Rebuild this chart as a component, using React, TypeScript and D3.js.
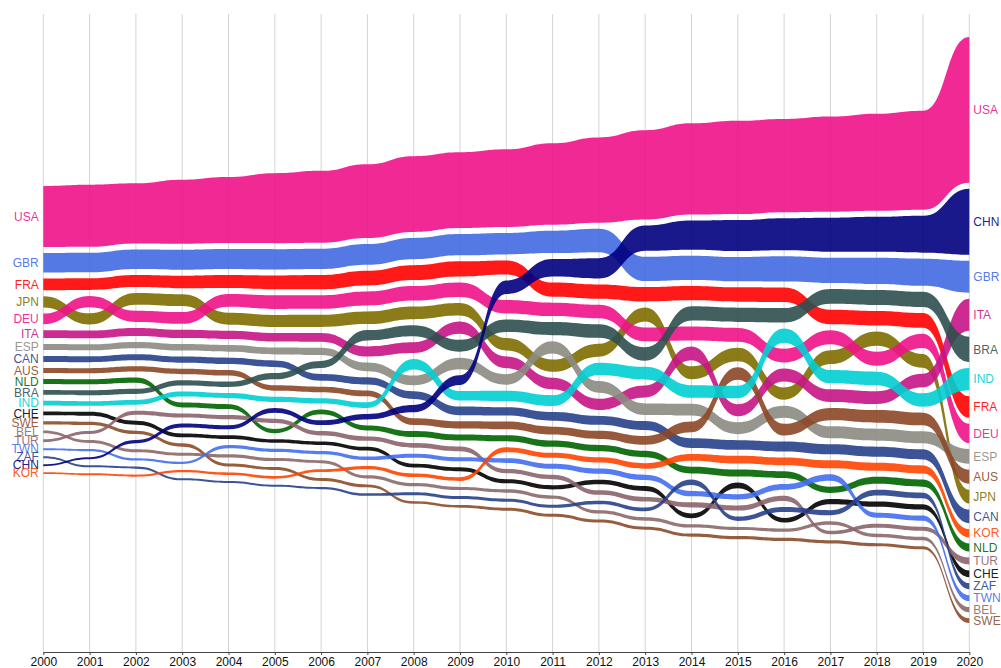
import React, { useEffect, useRef } from 'react';
import * as d3 from 'd3';

const years = [2000, 2001, 2002, 2003, 2004, 2005, 2006, 2007, 2008, 2009, 2010,
  2011, 2012, 2013, 2014, 2015, 2016, 2017, 2018, 2019, 2020];

// values per country, one per year (2000..2020)
const USA = [63, 64, 62, 66, 68, 72, 74, 76, 78, 78, 80, 84, 88, 92, 94, 96, 96, 98, 100, 102, 150];
const GBR = [20, 20, 20, 20.5, 20.5, 21, 21, 21.5, 22, 22, 22, 23, 24, 25, 25, 25, 26, 26, 27, 28, 33];
const FRA = [12, 12, 12.5, 13, 13.5, 14.2, 14.5, 15, 15.2, 15.5, 14.5, 14.5, 14.6, 14.8, 14.8, 14.8, 15, 15, 15, 15.2, 22];
const JPN = [11.8, 11.5, 12, 12.2, 12.4, 12.5, 12.5, 13, 13, 13, 12.8, 12.5, 13.2, 14.5, 13.2, 13.8, 12.5, 14.2, 14.6, 14.2, 14.2];
const DEU = [11, 11.8, 11.6, 12, 13, 14, 14, 14.5, 15, 15, 13.8, 13.8, 14, 14.2, 14.4, 14.3, 14.2, 14.4, 14.4, 14.6, 20];
const ITA = [8, 8, 8.2, 8.5, 8.5, 8.6, 9, 10.4, 11, 12.5, 12, 11.8, 11.6, 12.4, 14.2, 12.4, 13.5, 13, 13.2, 14, 33];
const ESP = [6.2, 6.2, 6.5, 6.8, 7, 7.2, 7.5, 9, 10, 12, 11, 12.8, 12, 12, 12.2, 12.2, 12.4, 12.3, 12.3, 12.2, 15];
const CAN = [6, 6, 6.2, 6.3, 6.5, 6.8, 7, 7.5, 8, 9, 8.5, 8.8, 9, 9.2, 10, 10, 10.2, 10.3, 10.4, 10.5, 14];
const AUS = [5.2, 5.3, 5.5, 5.6, 5.7, 5.5, 5.6, 6, 7, 7.5, 8, 8.2, 8.5, 9, 11, 13, 12.2, 12.8, 13, 13, 14.5];
const NLD = [5.1, 5.2, 5.4, 5, 5, 4.3, 5, 5.2, 6, 6, 6.2, 6.4, 6.5, 6.6, 6.8, 7, 7, 6.4, 7.2, 7.3, 8.3];
const BRA = [5, 5, 5.2, 5.5, 5.6, 6.5, 7.2, 10.6, 11.5, 12.3, 13, 13.5, 13.9, 13.8, 14.6, 14.6, 14.8, 15.2, 15.4, 15.6, 26];
const IND = [4.8, 4.8, 5, 5.2, 5.3, 5.4, 5.5, 5.8, 10.8, 9.8, 10.8, 11.2, 12.8, 13, 13, 12.8, 14.6, 13.6, 14, 13.8, 23];
const CHE = [4, 4, 4, 3.9, 3.8, 3.6, 3.6, 3.8, 3.9, 4, 4.2, 4.4, 4.8, 5, 5, 6, 4.8, 5.4, 5.4, 5.5, 7];
const SWE = [3.2, 3.3, 3.5, 3.5, 3.1, 3, 2.9, 3, 2.8, 2.8, 3, 3, 3.1, 3.2, 3.2, 3.2, 3.2, 3.2, 3.2, 3.2, 5];
const BEL = [3, 3, 3, 3, 3.2, 3.2, 3.1, 3.2, 3.2, 3.2, 3.4, 3.4, 3.4, 3.5, 3.4, 3.3, 3.4, 3.7, 3.6, 3.5, 5.2];
const TUR = [2.9, 3.2, 4.2, 4.3, 4.4, 4.4, 4.4, 4.5, 5, 5, 4.5, 4.6, 4.6, 4.8, 5.2, 5.2, 5.5, 3.6, 4, 4.2, 7.2];
const TWN = [2.2, 2.3, 2.4, 2.5, 3.4, 3.4, 3.4, 3.6, 4, 4.2, 4.8, 5, 5.2, 5.4, 5.5, 5.5, 5.8, 6.6, 5.2, 5.2, 6];
const ZAF = [2.1, 2.1, 2.2, 2.1, 2.1, 2.2, 2.3, 2.6, 3, 3, 3.2, 3.2, 3.6, 3.8, 5.8, 4.4, 5, 5.2, 5.8, 5.8, 6.2];
const CHN = [2, 2.2, 3.3, 4.1, 4.2, 5, 4.9, 5.6, 7.5, 10, 14, 18, 21, 26, 30, 32, 33, 35, 36, 38, 68];
const KOR = [1.9, 2, 2.1, 2.3, 2.6, 2.7, 3, 3.4, 3.8, 3.9, 5, 5.2, 5.5, 5.8, 7, 8, 8, 8.2, 8.3, 8.4, 8.5];

const countries = ['USA', 'GBR', 'FRA', 'JPN', 'DEU', 'ITA', 'ESP', 'CAN', 'AUS', 'NLD',
  'BRA', 'IND', 'CHE', 'SWE', 'BEL', 'TUR', 'TWN', 'ZAF', 'CHN', 'KOR'];
const values = [USA, GBR, FRA, JPN, DEU, ITA, ESP, CAN, AUS, NLD,
  BRA, IND, CHE, SWE, BEL, TUR, TWN, ZAF, CHN, KOR];
const colors = ['#ee1289', '#4169e1', '#ff0000', '#7e6e00', '#ee1289', '#c71585', '#8b8b83', '#27408b',
  '#8b4726', '#006400', '#2f4f4f', '#00ced1', '#000000', '#8b4c2a', '#8b6969', '#8b636c',
  '#436eee', '#27408b', '#000080', '#ff4500'];

const W = 1001;
const H = 668;
const plotTop = 37;
const plotBottom = 623;
const axisY = 652;
const gap = 6;
const font = '"Liberation Sans", Arial, sans-serif';

const App = () => {
  const svgRef = useRef<SVGSVGElement>(null);

  useEffect(() => {
    const svg = d3.select(svgRef.current);
    svg.selectAll('*').remove();

    const x = d3.scaleLinear().domain([2000, 2020]).range([43.3, 969.3]);
    const n = countries.length;
    const sums = years.map((_, j) => d3.sum(values, v => v[j]));
    const maxSum = d3.max(sums) as number;
    // value -> band thickness
    const h = d3.scaleLinear().domain([0, maxSum]).range([0, plotBottom - plotTop - gap * (n - 1)]);
    const center = (plotTop + plotBottom) / 2;

    const series = countries.map((name, i) => ({
      name, color: colors[i], values: values[i], y0: [] as number[], y1: [] as number[],
    }));

    // stack by rank each year, centred
    years.forEach((_, j) => {
      const sorted = series.slice().sort((a, b) => b.values[j] - a.values[j]);
      let y = center - (h(sums[j]) + gap * (n - 1)) / 2;
      sorted.forEach(s => {
        s.y0[j] = y;
        y += h(s.values[j]);
        s.y1[j] = y;
        y += gap;
      });
    });

    // grid
    svg.append('g')
      .selectAll('line')
      .data(years)
      .join('line')
      .attr('x1', d => x(d))
      .attr('x2', d => x(d))
      .attr('y1', 14)
      .attr('y2', axisY)
      .attr('stroke', '#d4d4d4')
      .attr('stroke-width', 1);

    const idx = years.map((_, j) => j);
    const g = svg.append('g');
    series.forEach(s => {
      const area = d3.area<number>()
        .x(j => x(years[j]))
        .y0(j => s.y0[j])
        .y1(j => s.y1[j])
        .curve(d3.curveBumpX);
      g.append('path')
        .datum(idx)
        .attr('d', area)
        .attr('fill', s.color)
        .attr('fill-opacity', 0.9);
    });

    // labels
    const last = years.length - 1;
    const labels = svg.append('g')
      .style('font-family', font)
      .style('font-size', '12px');
    series.forEach(s => {
      labels.append('text')
        .attr('x', x(2000) - 4.5)
        .attr('y', (s.y0[0] + s.y1[0]) / 2)
        .attr('dy', '0.35em')
        .attr('text-anchor', 'end')
        .attr('fill', s.color)
        .attr('fill-opacity', 0.9)
        .text(s.name);
      labels.append('text')
        .attr('x', x(2020) + 4)
        .attr('y', (s.y0[last] + s.y1[last]) / 2)
        .attr('dy', '0.35em')
        .attr('text-anchor', 'start')
        .attr('fill', s.color)
        .attr('fill-opacity', 0.9)
        .text(s.name);
    });

    // x axis
    const ax = svg.append('g')
      .attr('transform', `translate(0,${axisY})`)
      .call(d3.axisBottom(x).tickValues(years).tickFormat(d3.format('d')).tickSize(3).tickPadding(2).tickSizeOuter(0));
    ax.select('.domain').attr('stroke', '#444');
    ax.selectAll('.tick line').attr('stroke', '#444');
    ax.selectAll('.tick text')
      .style('font-family', font)
      .style('font-size', '12px')
      .attr('fill', '#111');
  }, []);

  return (
    <svg
      ref={svgRef}
      width={W}
      height={H}
      style={{ position: 'absolute', left: 0, top: 0, background: '#fff' }}
    />
  );
};

export default App;
